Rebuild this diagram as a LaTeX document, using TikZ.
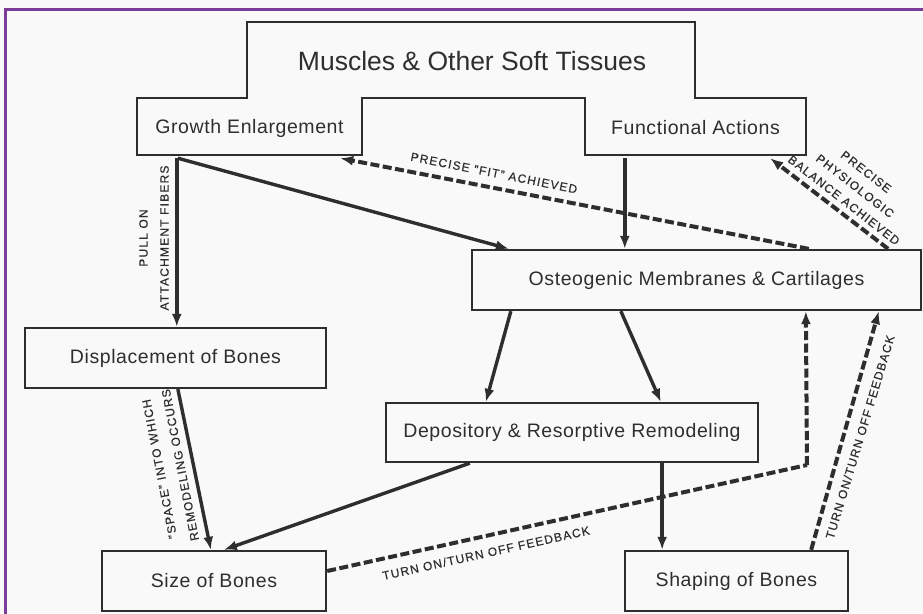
\documentclass[tikz,border=0pt]{standalone}
\usepackage{fontspec}
\setmainfont{Liberation Sans}
\usetikzlibrary{arrows.meta,calc}
\definecolor{framepurple}{HTML}{7D3C98}
\definecolor{ink}{HTML}{2E2E2E}
\definecolor{paper}{HTML}{F9F9F9}
\newcommand{\boxfont}{\fontsize{19.5}{22}\selectfont\addfontfeatures{LetterSpace=3}}
\newcommand{\lblfont}{\addfontfeatures{LetterSpace=10,FakeBold=0.4}\fontsize{12}{14}\selectfont}
\begin{document}
\begin{tikzpicture}[x=1pt,y=-1pt,
  boxnode/.style={draw=ink,line width=2.3pt,inner sep=0pt,font=\boxfont,text=ink},
  plainnode/.style={inner sep=0pt,font=\boxfont,text=ink},
  solidarrow/.style={draw=ink,line width=3.4pt,-{Latex[length=13pt,width=10pt]}},
  fbarrow/.style={draw=ink,line width=4pt,dash pattern=on 9pt off 3.5pt,-{Latex[length=13pt,width=10pt]}},
  fbline/.style={draw=ink,line width=4pt,dash pattern=on 9pt off 3.5pt},
  lbl/.style={inner sep=0pt,font=\lblfont,text=ink,align=center}]
\useasboundingbox (0,0) rectangle (923,613);
\fill[paper] (0,0) rectangle (923,613);
% frame
\draw[framepurple,line width=3pt] (5,625) -- (5,9) -- (930,9);
% top compound outline
\draw[ink,line width=2.3pt,line join=miter]
  (137,98) -- (247,98) -- (247,22) -- (695,22) -- (695,98) -- (806,98)
  -- (806,155) -- (585,155) -- (585,98) -- (362,98) -- (362,155) -- (137,155) -- cycle;
\node[plainnode,font=\fontsize{26.5}{30}\selectfont] (muscles) at (472,61) {Muscles \& Other Soft Tissues};
\node[plainnode,minimum width=225pt,minimum height=57pt] (growth) at (249.5,128) {Growth Enlargement};
\node[plainnode,minimum width=221pt,minimum height=57pt] (func) at (695.5,128) {Functional Actions};
% boxes
\node[boxnode,minimum width=449pt,minimum height=60pt] (osteo) at (696.5,280) {Osteogenic Membranes \& Cartilages};
\node[boxnode,minimum width=301pt,minimum height=60pt] (disp) at (175.5,358) {Displacement of Bones};
\node[boxnode,minimum width=372pt,minimum height=59pt] (depo) at (572,432.5) {Depository \& Resorptive Remodeling};
\node[boxnode,minimum width=224pt,minimum height=60pt] (size) at (214,581) {Size of Bones};
\node[boxnode,minimum width=223pt,minimum height=60pt] (shape) at (736.5,581) {Shaping of Bones};
% solid arrows
\draw[solidarrow] ([xshift=40pt,yshift=-1.5pt]growth.south west) -- ([xshift=40pt]growth.south west |- disp.north);
\draw[solidarrow] ([xshift=41pt,yshift=-1.5pt]growth.south west) -- ([xshift=38pt]osteo.north west);
\draw[solidarrow] ([xshift=40pt,yshift=-1.5pt]func.south west) -- ([xshift=40pt]func.south west |- osteo.north);
\draw[solidarrow] ([xshift=40pt]osteo.south west) -- ([xshift=101pt]depo.north west);
\draw[solidarrow] ([xshift=150pt]osteo.south west) -- ([xshift=276pt]depo.north west);
\draw[solidarrow] ([xshift=154pt]disp.south west) -- ([xshift=110pt]size.north west);
\draw[solidarrow] ([xshift=85pt]depo.south west) -- ([xshift=123pt]size.north west);
\draw[solidarrow] ([xshift=-97pt]depo.south east) -- ([xshift=-97pt]depo.south east |- shape.north);
% feedback (dashed) arrows
\draw[fbarrow] ([xshift=338pt]osteo.north west) -- ([xshift=-22pt,yshift=-1.5pt]growth.south east);
\draw[fbarrow] ([xshift=-34pt]osteo.north east) -- ([xshift=-36pt,yshift=-1.5pt]func.south east);
\coordinate (fbcorner) at (807,465);
\draw[fbline] ([yshift=10pt]size.east) -- (fbcorner);
\draw[fbarrow] (fbcorner) -- ([xshift=335pt]osteo.south west);
\draw[fbarrow] ([xshift=-38pt]shape.north east) -- ([xshift=408pt]osteo.south west);
% labels
\node[lbl,rotate=90] (lpull) at (154,238) {PULL ON\\[7pt]ATTACHMENT FIBERS};
\node[lbl,rotate=-11.2] (lfit) at (494,173) {PRECISE "FIT" ACHIEVED};
\node[lbl,rotate=-37.9] (lbal) at (855,186) {PRECISE\\[4pt]PHYSIOLOGIC\\[4pt]BALANCE ACHIEVED};
\node[lbl,rotate=101] (lspace) at (170,467) {"SPACE" INTO WHICH\\[7pt]REMODELING OCCURS};
\node[lbl,rotate=12.5] (lturn1) at (486,553) {TURN ON/TURN OFF FEEDBACK};
\node[lbl,rotate=73.2] (lturn2) at (860,437) {TURN ON/TURN OFF FEEDBACK};
\end{tikzpicture}
\end{document}
